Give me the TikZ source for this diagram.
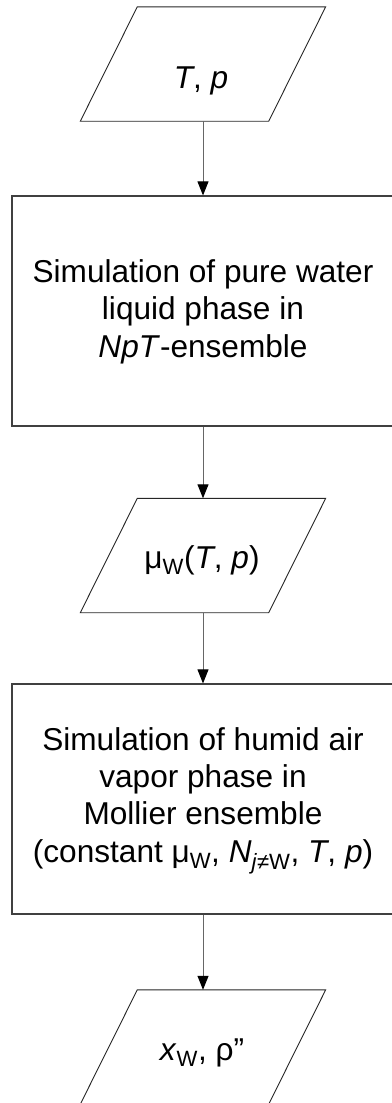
\documentclass[tikz,border=0pt]{standalone}
\usepackage{fontspec}
\setmainfont{Liberation Sans}
\usetikzlibrary{arrows.meta}
\newcommand\ioshape[1]{%
  \draw[iolines] ([xshift=28.5pt]#1.north west) -- ([xshift=28.5pt]#1.north east)
    -- ([xshift=-28.5pt]#1.south east) -- ([xshift=-28.5pt]#1.south west) -- cycle;}
\begin{document}
\begin{tikzpicture}[x=1pt,y=-1pt,
  io/.style={rectangle, draw=none, minimum width=188pt, minimum height=114pt, inner sep=0pt},
  iolines/.style={draw=black!85, line width=0.9pt, line join=miter},
  proc/.style={rectangle, draw=black!75, line width=1.2pt,
    minimum width=382pt, minimum height=230pt, inner sep=0pt},
  arr/.style={-{Triangle[length=14pt,width=11pt,color=black]}, draw=black!60, line width=1pt},
  txt/.style={font=\fontsize{31.6}{37.3}\selectfont, align=center, inner sep=0pt, anchor=base}]
\useasboundingbox (0,0) rectangle (391,1103);
\node[io] (in1) at (203,64) {};
\node[proc] (sim1) at (203,311) {};
\node[io] (mu) at (203,555.5) {};
\node[proc] (sim2) at (203,799) {};
\node[io] (out) at (203,1047) {};
\ioshape{in1}
\ioshape{mu}
\ioshape{out}
\draw[arr] (in1.south) -- (sim1.north);
\draw[arr] (sim1.south) -- (mu.north);
\draw[arr] (mu.south) -- (sim2.north);
\draw[arr] (sim2.south) -- (out.north);
\node[txt] (t1) at (201,88) {\textit{T}, \textit{p}};
\node[txt] (t2) at (203,357) {Simulation of pure water\\liquid phase in\\\textit{NpT}-ensemble};
\node[txt] (t3) at (202,568) {μ\textsubscript{W}(\textit{T}, \textit{p})};
\node[txt] (t4) at (203,862) {Simulation of humid air\\vapor phase in\\Mollier ensemble\\(constant μ\textsubscript{W}, \textit{N}\textsubscript{\textit{j}≠W}, \textit{T}, \textit{p})};
\node[txt] (t5) at (202,1060) {\textit{x}\textsubscript{W}, ρ''};
\end{tikzpicture}
\end{document}
